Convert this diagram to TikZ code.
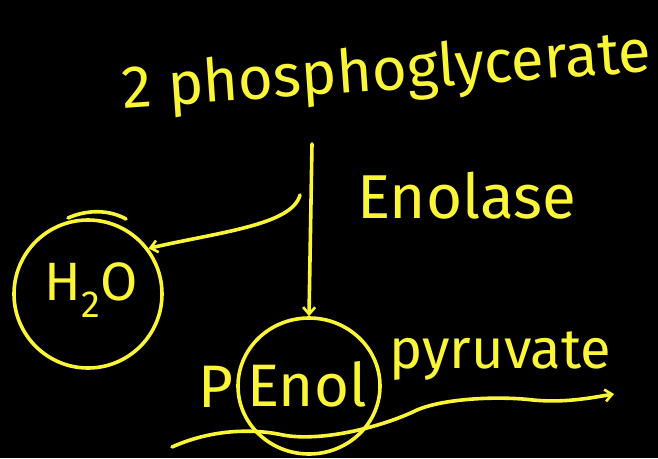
\documentclass[tikz,border=0pt]{standalone}
\usepackage{fontspec}
\setmainfont{Fira Sans}
\usetikzlibrary{arrows.meta,shapes.geometric}
\definecolor{chalk}{RGB}{250,245,55}
\tikzset{
  ink/.style={draw=chalk, line width=3.6pt, line cap=round, line join=round},
  inktip/.style={-{Straight Barb[length=7pt,width=12pt,line width=2.6pt]}},
  lbl/.style={text=chalk, inner sep=0pt},
}
\begin{document}
\begin{tikzpicture}[x=1pt,y=-1pt]
\fill[black] (0,0) rectangle (658,458);
\useasboundingbox (0,0) rectangle (658,458);

% texts
\node[lbl, font=\fontsize{60}{70}\selectfont, anchor=base, rotate=4] (pg) at (388,90) {2 phosphoglycerate};
\node[lbl, font=\fontsize{62}{72}\selectfont, anchor=base west] (enz) at (357,218) {Enolase};

% water
\node[ink, circle, minimum size=148pt] (h2o) at (88,294) {};
\node[lbl, font=\fontsize{54}{64}\selectfont] (wt) at (91,290) {H$_{\mathrm 2}$O};
\draw[ink] (68,218) .. controls (88,209) and (110,210) .. (126,219);

% product
\node[ink, ellipse, minimum width=142pt, minimum height=136pt] (enol) at (309,386) {};
\node[lbl, font=\fontsize{60}{70}\selectfont, anchor=base] (enoltxt) at (307,406) {Enol};
\node[lbl, font=\fontsize{60}{70}\selectfont, anchor=base west] (p) at (198,407) {P};
\node[lbl, font=\fontsize{56}{66}\selectfont, anchor=base west] (pyr) at (389,368) {pyruvate};

% connectors
\coordinate (top) at (312,144);
\coordinate (bend) at (300,195);
\coordinate (wstart) at (172,447);
\coordinate (wend) at (614,394);
\draw[ink, inktip] (top) -- (enol.north);
\draw[ink, inktip] (bend) .. controls (292,225) and (220,232) .. (h2o.37);
\draw[ink, inktip] (wstart) .. controls (210,430) and (250,428) .. (283,435)
   .. controls (320,442) and (380,428) .. (417,410)
   .. controls (445,398) and (500,396) .. (533,400)
   .. controls (565,403) and (590,398) .. (wend);
\end{tikzpicture}
\end{document}
